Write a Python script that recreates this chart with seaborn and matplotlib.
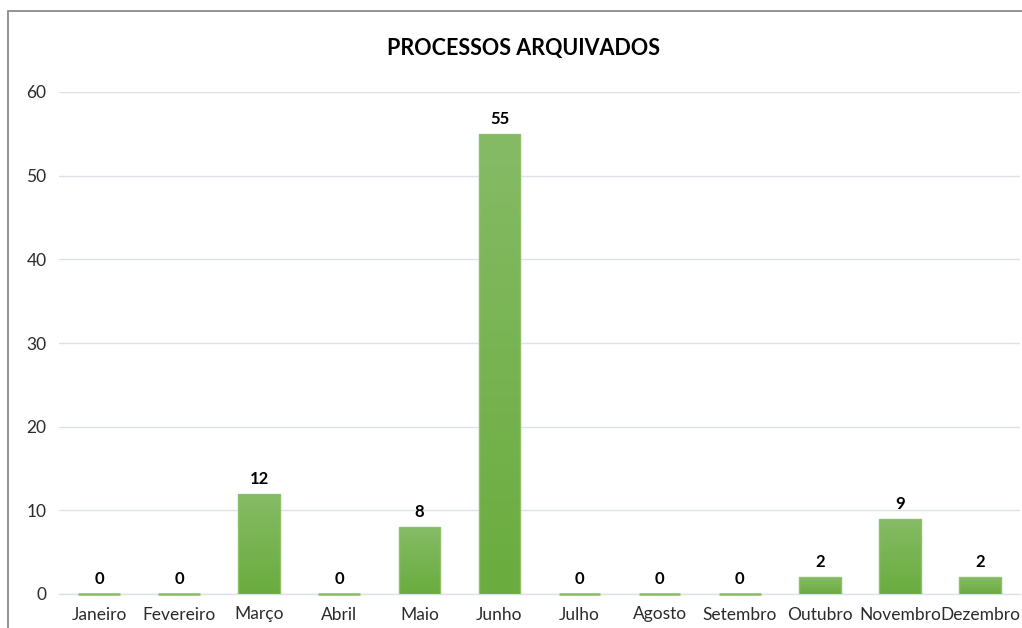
import numpy as np
import matplotlib
matplotlib.use("Agg")
import matplotlib.pyplot as plt
from matplotlib.patches import Rectangle
from matplotlib.colors import LinearSegmentedColormap
import seaborn as sns

sns.set_style("white")
plt.rcParams["font.family"] = ["Lato", "DejaVu Sans"]

# Data
months = ["Janeiro", "Fevereiro", "Março", "Abril", "Maio", "Junho",
          "Julho", "Agosto", "Setembro", "Outubro", "Novembro", "Dezembro"]
archived = [0, 0, 12, 0, 8, 55, 0, 0, 0, 2, 9, 2]
title = "PROCESSOS ARQUIVADOS"

TEXT = "#2b2b2b"
GRID = "#dde1e6"

fig = plt.figure(figsize=(10.22, 6.28), dpi=100)
ax = fig.add_axes([59 / 1022, 1 - 594 / 628, (1020 - 59) / 1022, (594 - 92) / 628])

sns.barplot(x=months, y=archived, color="#76b24f", width=0.52,
            edgecolor="#8cc06b", linewidth=1.0, ax=ax)

# vertical gradient inside each bar (lighter at top, darker at bottom)
grad_cmap = LinearSegmentedColormap.from_list("g", ["#6aac3e", "#86bb66"])
grad = np.linspace(0, 1, 256).reshape(-1, 1)
for p in ax.patches:
    h = p.get_height()
    if h <= 0:
        # empty months show as a flat green line on the axis
        p.set_linewidth(1.8)
        p.set_edgecolor("#86bd63")
        p.set_zorder(3)
        p.set_clip_on(False)
        continue
    x0 = p.get_x()
    im = ax.imshow(grad, cmap=grad_cmap, origin="lower", aspect="auto",
                   extent=[x0, x0 + p.get_width(), 0, h], zorder=3)
    im.set_clip_path(p)
    p.set_facecolor("none")
    p.set_zorder(3.1)

# value labels
for i, v in enumerate(archived):
    ax.annotate(str(v), (i, v), xytext=(0, 5), textcoords="offset points",
                ha="center", va="bottom", fontsize=12, fontweight="bold",
                color="black")

ax.set_xlim(-0.5, len(months) - 0.5)
ax.set_ylim(0, 60)
ax.set_yticks(range(0, 61, 10))
ax.yaxis.grid(True, color=GRID, linewidth=1)
ax.set_axisbelow(True)
ax.set_xlabel("")
ax.set_ylabel("")

for side in ["left", "right", "top"]:
    ax.spines[side].set_visible(False)
ax.spines["bottom"].set_color(GRID)
ax.spines["bottom"].set_linewidth(1)

ax.tick_params(axis="y", length=0, pad=9, labelsize=12.5, labelcolor=TEXT)
ax.tick_params(axis="x", which="major", length=0, pad=9, labelsize=12.5,
               labelcolor=TEXT)
ax.set_xticks(np.arange(-0.5, len(months), 0.5), minor=True)
ax.tick_params(axis="x", which="minor", direction="inout", length=8,
               color=GRID, width=1)

fig.text(523 / 1022, 1 - 48 / 628, title, ha="center", va="center",
         fontsize=15.5, fontweight="bold", color="black")

# chart area border (cropped on the right and bottom in the reference)
fig.add_artist(Rectangle((8 / 1022, -0.2), 2, 1.2 - 11 / 628,
                         transform=fig.transFigure, fill=False,
                         edgecolor="#8a8a8a", linewidth=1.3))

fig.savefig("out.png", dpi=100)
